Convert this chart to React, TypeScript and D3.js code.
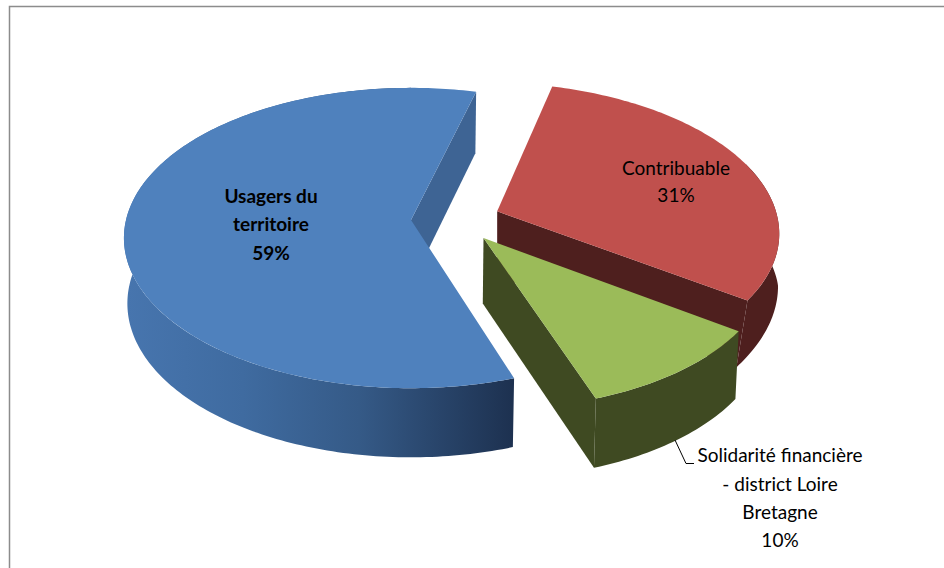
import React from "react";
import * as d3 from "d3";

const categories = ["Usagers du territoire", "Contribuable", "Solidarité financière - district Loire Bretagne"];
const values = [59.3, 30.7, 10];
const topColors = ["#4f81bd", "#c0504d", "#9bbb59"];
const wallColors = ["#3e6494", "#4e1f1e", "#3f4a22"];
const radiusScale = [1, 0.985, 0.985];

const W = 944, H = 568;
const cx = 411, cy = 220;      // screen position of the blue apex
const Rx = 285, Ry = 148;      // disc radii
const k = 0.12;                // perspective strength
const depth = 65;              // extrusion
const depthK = 0.06;           // perspective of the extrusion
const explode = 0.157;
const start = (161.3 * Math.PI) / 180;

type P = [number, number];
const u = (a: number): P => [Math.sin(a), Math.cos(a)];

// convergence of the lower plane, per slice
const shrinks: ((z: number) => number)[] = [
  () => 0.988,
  (z) => (z >= 0 ? 1 : Math.max(0.967, 1 + 0.066 * z)),
  () => 0.99,
];

const arcs = d3.pie<number>().sort(null).startAngle(start).endAngle(start + 2 * Math.PI)(values);
const blueMid = (arcs[0].startAngle + arcs[0].endAngle) / 2;
const centre: P = [-explode * u(blueMid)[0], -explode * u(blueMid)[1]];

const top = ([x, z]: P): P => {
  const w = 1 + k * z;
  return [cx + (Rx * x) / w, cy - (Ry * z) / w];
};
const bottom = (i: number) => ([x, z]: P): P => {
  const w = 1 + k * z;
  return [cx + ((Rx * x) / w) * shrinks[i](z), cy - (Ry * z) / w + depth / (1 + depthK * z)];
};
const line = d3.line<P>();

function slice(i: number) {
  const a = arcs[i];
  const mid = (a.startAngle + a.endAngle) / 2;
  const apex: P = [centre[0] + explode * u(mid)[0], centre[1] + explode * u(mid)[1]];
  const r = radiusScale[i];
  const at = (t: number): P => [apex[0] + r * u(t)[0], apex[1] + r * u(t)[1]];
  const arcPts = (s: number, e: number) => {
    const n = Math.max(2, Math.ceil(((e - s) * 180) / Math.PI));
    return d3.range(n + 1).map((j) => at(s + ((e - s) * j) / n));
  };
  return {
    apex,
    at,
    arcPts,
    topPath: line([apex, ...arcPts(a.startAngle, a.endAngle)].map(top)) + "Z",
    wall: (pts: P[]) => line([...pts.map(top), ...pts.slice().reverse().map(bottom(i))]) + "Z",
    a,
  };
}

const [blue, red, green] = [slice(0), slice(1), slice(2)];
const rad = (d: number) => (d * Math.PI) / 180;
const pct = (v: number) => `${Math.round(v)}%`;

const font = "Lato, Carlito, Calibri, sans-serif";

export default function App() {
  return (
    <svg width={W} height={H} style={{ position: "absolute", left: 0, top: 0, display: "block", background: "#fff" }}>
      <defs>
        <linearGradient id="blueWall" gradientUnits="userSpaceOnUse" x1={127} x2={513} y1={0} y2={0}>
          <stop offset="0" stopColor="#4775ae" />
          <stop offset="0.3" stopColor="#3f6ba0" />
          <stop offset="0.6" stopColor="#355a87" />
          <stop offset="1" stopColor="#1d3150" />
        </linearGradient>
      </defs>
      <path d="M9.5 568V6.5H944" fill="none" stroke="#8c8c8c" strokeWidth={1.5} />

      {/* blue */}
      <path d={blue.wall([blue.apex, blue.at(blue.a.endAngle)])} fill={wallColors[0]} />
      <path d={blue.wall(blue.arcPts(blue.a.startAngle, rad(360)))} fill="url(#blueWall)" />
      <path d={blue.topPath} fill={topColors[0]} />

      {/* red */}
      <path d={red.wall([red.apex, red.at(red.a.endAngle)])} fill={wallColors[1]} />
      <path d={red.wall(red.arcPts(rad(430), red.a.endAngle))} fill={wallColors[1]} />
      <path d={red.topPath} fill={topColors[1]} />

      {/* green */}
      <path d={green.wall([green.apex, green.at(green.a.endAngle)])} fill={wallColors[2]} />
      <path d={green.wall(green.arcPts(green.a.startAngle, green.a.endAngle))} fill={wallColors[2]} />
      <path d={green.topPath} fill={topColors[2]} />

      <path d="M675 440L686 463.5H694" fill="none" stroke="#000" strokeWidth={1} />

      <g fontFamily={font} fontSize={19} textAnchor="middle" fill="#000">
        <g fontWeight="bold">
          <text x={271} y={203}>Usagers du</text>
          <text x={271} y={231}>territoire</text>
          <text x={271} y={260}>{pct(values[0])}</text>
        </g>
        <text x={676} y={175}>{categories[1]}</text>
        <text x={676} y={202}>{pct(values[1])}</text>
        <text x={780} y={462}>Solidarité financière</text>
        <text x={780} y={491}>- district Loire</text>
        <text x={780} y={519}>Bretagne</text>
        <text x={780} y={547}>{pct(values[2])}</text>
      </g>
    </svg>
  );
}
